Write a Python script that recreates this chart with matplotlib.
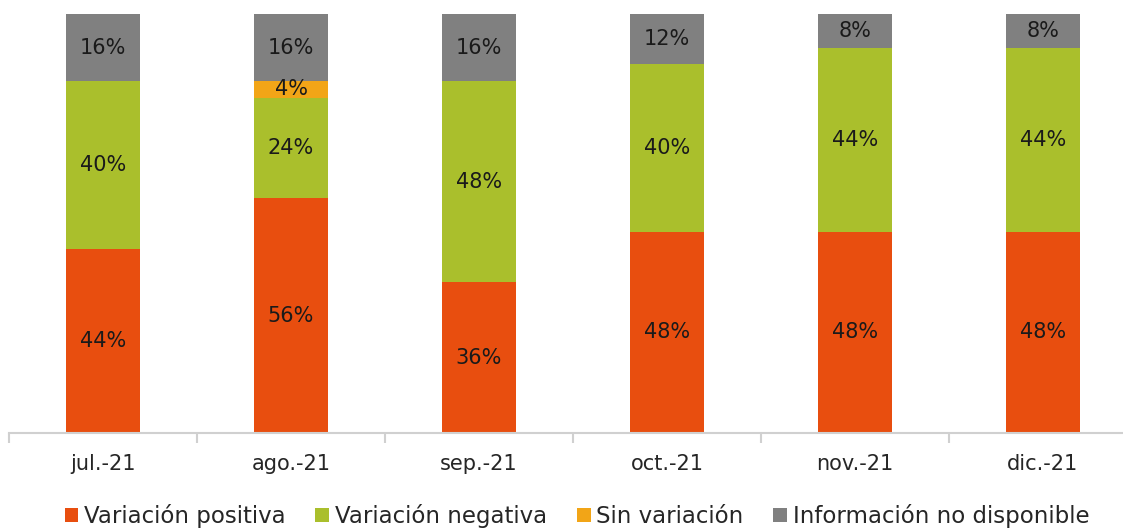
import matplotlib
matplotlib.use("Agg")
import matplotlib.pyplot as plt
import numpy as np

categories = ["jul.-21", "ago.-21", "sep.-21", "oct.-21", "nov.-21", "dic.-21"]
variacion_positiva = [44, 56, 36, 48, 48, 48]
variacion_negativa = [40, 24, 48, 40, 44, 44]
sin_variacion = [0, 4, 0, 0, 0, 0]
info_no_disponible = [16, 16, 16, 12, 8, 8]

series = [
    ("Variación positiva", variacion_positiva, "#E84E0F"),
    ("Variación negativa", variacion_negativa, "#AABF2C"),
    ("Sin variación", sin_variacion, "#F2A517"),
    ("Información no disponible", info_no_disponible, "#808080"),
]

plt.rcParams['font.family'] = ['DejaVu Sans']
fig = plt.figure(figsize=(11.23, 5.29), dpi=100)
W, H = 1123, 529
left_px, right_px = 9, 1137
top_px, bot_px = 14, 433
ax = fig.add_axes([left_px / W, (H - bot_px) / H, (right_px - left_px) / W, (bot_px - top_px) / H])

x = np.arange(len(categories))
bottom = np.zeros(len(categories))
handles = []
for name, vals, color in series:
    vals = np.array(vals, dtype=float)
    bars = ax.bar(x, vals, 0.39, bottom=bottom, color=color, label=name, zorder=2)
    handles.append(bars)
    for xi, v, b in zip(x, vals, bottom):
        if v > 0:
            ax.text(xi, b + v / 2, f"{int(v)}%", ha="center", va="center",
                    fontsize=15, color="#1a1a1a", zorder=3)
    bottom += vals

ax.set_xlim(-0.5, len(categories) - 0.5)
ax.set_ylim(0, 100)
ax.set_yticks([])
for s in ["top", "right", "left"]:
    ax.spines[s].set_visible(False)
ax.spines["bottom"].set_color("#d0d0d0")
ax.spines["bottom"].set_linewidth(1.5)
ax.set_xticks(x)
ax.set_xticklabels(categories, fontsize=15, color="#262626")
ax.tick_params(axis="x", which="major", length=0, pad=15)
ax.set_xticks(np.arange(-0.5, len(categories), 1), minor=True)
ax.tick_params(axis="x", which="minor", length=7, width=1.5, color="#d0d0d0")

leg = fig.legend(handles=handles, loc="center", bbox_to_anchor=(577 / W, (H - 516) / H),
                 ncol=4, frameon=False, fontsize=16.5, handlelength=0.6, handleheight=0.6,
                 handletextpad=0.25, columnspacing=1.3, labelcolor="#262626")

fig.savefig("out.png", dpi=100)
